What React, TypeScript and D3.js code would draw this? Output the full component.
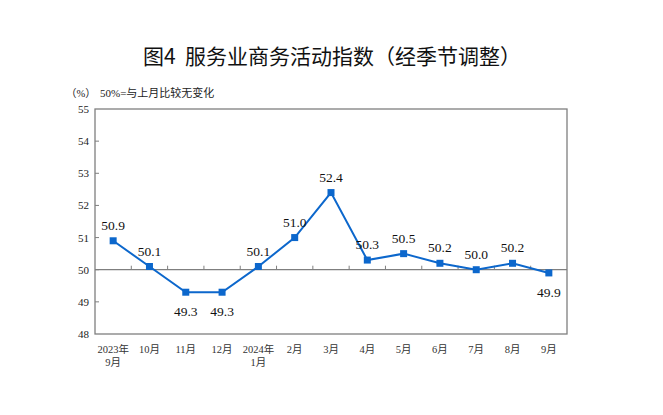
import React from "react";
import * as d3 from "d3";

const categories = ["2023年\n9月", "10月", "11月", "12月", "2024年\n1月", "2月", "3月", "4月", "5月", "6月", "7月", "8月", "9月"];
const values = [50.9, 50.1, 49.3, 49.3, 50.1, 51.0, 52.4, 50.3, 50.5, 50.2, 50.0, 50.2, 49.9];
const labelBelow = [false, false, true, true, false, false, false, false, false, false, false, false, true];
const yTicks = [48, 49, 50, 51, 52, 53, 54, 55];
const title = "图4\u00a0\u00a0服务业商务活动指数（经季节调整）";
const noteUnit = "（%）";
const noteText = "50%=与上月比较无变化";

const W = 663, H = 415;
const left = 95, right = 567, top = 109, bottom = 334;
const serif = "'Liberation Serif', 'Times New Roman', 'Noto Sans CJK SC', serif";
const cjk = "'Noto Sans CJK SC', sans-serif";
const blue = "#0c67cc";

export default function App() {
  const x = d3.scaleBand<string>().domain(categories).range([left, right]);
  const y = d3.scaleLinear().domain([48, 55]).range([bottom, top]);
  const cx = (i: number) => (x(categories[i]) as number) + x.bandwidth() / 2;
  const line = d3.line<number>().x((_, i) => cx(i)).y((d) => y(d));
  const y50 = y(50);

  return (
    <svg width={W} height={H} style={{ position: "absolute", left: 0, top: 0, background: "#fff" }}>
      <text x={332} y={64} textAnchor="middle" fontFamily={cjk} fontSize={21} fill="#111">{title}</text>
      <text x={66} y={97} fontFamily={serif} fontSize={10.5} fill="#222">{noteUnit}</text>
      <text x={100} y={97} fontFamily={serif} fontSize={11} fill="#222">{noteText}</text>

      {/* plot frame */}
      <rect x={left} y={top} width={right - left} height={bottom - top} fill="none" stroke="#7f7f7f" strokeWidth={1.3} />
      {/* y ticks */}
      {yTicks.map((t) => (
        <g key={t}>
          {t !== 48 && t !== 55 && <line x1={left} x2={left + 4} y1={y(t)} y2={y(t)} stroke="#7f7f7f" />}
          <text x={left - 6} y={y(t) + 4} textAnchor="end" fontFamily={serif} fontSize={11} fill="#222">{t}</text>
        </g>
      ))}
      {/* 50 baseline with category ticks */}
      <line x1={left} x2={right} y1={y50} y2={y50} stroke="#7f7f7f" strokeWidth={1.3} />
      {categories.slice(1).map((c) => (
        <line key={c} x1={x(c) as number} x2={x(c) as number} y1={y50} y2={y50 - 4} stroke="#7f7f7f" />
      ))}
      {/* x labels */}
      {categories.map((c, i) => {
        const parts = c.split("\n");
        return (
          <text key={c} x={cx(i)} y={353} textAnchor="middle" fontFamily={serif} fontSize={10.5} fill="#333">
            {parts.map((p, j) => (
              <tspan key={j} x={cx(i)} dy={j === 0 ? 0 : 13}>{p}</tspan>
            ))}
          </text>
        );
      })}
      {/* series */}
      <path d={line(values) as string} fill="none" stroke={blue} strokeWidth={2} />
      {values.map((v, i) => (
        <rect key={i} x={cx(i) - 3.5} y={y(v) - 3.5} width={7} height={7} fill={blue} />
      ))}
      {values.map((v, i) => (
        <text key={"l" + i} x={cx(i)} y={labelBelow[i] ? y(v) + 24 : y(v) - 11} textAnchor="middle" fontFamily={serif} fontSize={13.5} fill="#111">
          {v.toFixed(1)}
        </text>
      ))}
    </svg>
  );
}
